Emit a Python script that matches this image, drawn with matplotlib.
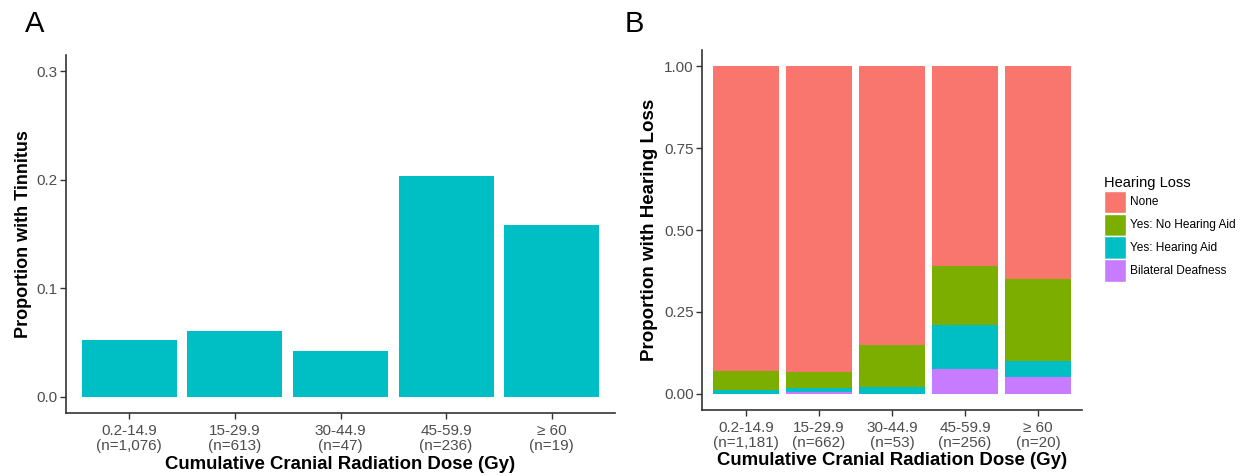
import matplotlib
matplotlib.use('Agg')
import matplotlib.pyplot as plt
from matplotlib.patches import Patch
import numpy as np

plt.rcParams['font.family'] = ['Liberation Sans', 'DejaVu Sans']

# dose groups
dose_groups = ['0.2-14.9', '15-29.9', '30-44.9', '45-59.9', '\u2265 60']
n_tinnitus = ['1,076', '613', '47', '236', '19']
n_hearing = ['1,181', '662', '53', '256', '20']

# panel A: proportion with tinnitus
tinnitus = [0.052, 0.0604, 0.0426, 0.2034, 0.1579]

# panel B: hearing loss categories (proportions per group)
deafness = [0.0, 0.006, 0.0, 0.076, 0.05]
hearing_aid = [0.012, 0.012, 0.019, 0.134, 0.05]
no_aid = [0.058, 0.049, 0.130, 0.179, 0.25]
none = [1 - a - b - c for a, b, c in zip(deafness, hearing_aid, no_aid)]

hl_labels = ['None', 'Yes: No Hearing Aid', 'Yes: Hearing Aid', 'Bilateral Deafness']
hl_colors = ['#F8766D', '#7CAE00', '#00BFC4', '#C77CFF']

TICK_COL = '#4D4D4D'
AX_COL = '#333333'


def style_axes(ax):
    for s in ['top', 'right']:
        ax.spines[s].set_visible(False)
    for s in ['left', 'bottom']:
        ax.spines[s].set_color(AX_COL)
        ax.spines[s].set_linewidth(1.2)
    ax.tick_params(colors=AX_COL, labelcolor=TICK_COL, labelsize=11,
                   length=4, width=1.0, pad=2)
    ax.tick_params(axis='x', pad=4)
    for t in ax.get_xticklabels():
        t.set_linespacing(1.12)


fig = plt.figure(figsize=(12.47, 4.76), dpi=100)

# ---- A ----
axA = fig.add_axes([66 / 1247, 63 / 476, 549 / 1247, 358 / 476])
x = np.arange(len(dose_groups))
axA.bar(x, tinnitus, width=0.9, color='#00BFC4')
axA.set_xlim(-0.6, len(dose_groups) - 0.4)
axA.set_ylim(-0.015, 0.315)
axA.set_yticks([0.0, 0.1, 0.2, 0.3])
axA.set_yticklabels(['0.0', '0.1', '0.2', '0.3'])
axA.set_xticks(x)
axA.set_xticklabels([f'{g}\n(n={n})' for g, n in zip(dose_groups, n_tinnitus)])
axA.set_ylabel('Proportion with Tinnitus', fontsize=13, fontweight='bold', labelpad=3)
axA.set_xlabel('Cumulative Cranial Radiation Dose (Gy)', fontsize=13.4,
               fontweight='bold', labelpad=2)
style_axes(axA)

# ---- B ----
axB = fig.add_axes([702 / 1247, 66 / 476, 380 / 1247, 360 / 476])
bottom = np.zeros(len(dose_groups))
for vals, col in zip([deafness, hearing_aid, no_aid, none], hl_colors[::-1]):
    axB.bar(x, vals, bottom=bottom, width=0.9, color=col)
    bottom += np.array(vals)
axB.set_xlim(-0.6, len(dose_groups) - 0.4)
axB.set_ylim(-0.05, 1.05)
axB.set_yticks([0, 0.25, 0.5, 0.75, 1.0])
axB.set_yticklabels(['0.00', '0.25', '0.50', '0.75', '1.00'])
axB.set_xticks(x)
axB.set_xticklabels([f'{g}\n(n={n})' for g, n in zip(dose_groups, n_hearing)])
axB.set_ylabel('Proportion with Hearing Loss', fontsize=13.5, fontweight='bold', labelpad=4)
axB.set_xlabel('Cumulative Cranial Radiation Dose (Gy)', fontsize=13.4,
               fontweight='bold', labelpad=1)
style_axes(axB)

handles = [Patch(facecolor=c, edgecolor='white', linewidth=1.0) for c in hl_colors]
leg = fig.legend(handles, hl_labels, title='Hearing Loss', loc='upper left',
                 bbox_to_anchor=(1104 / 1247, 1 - 176 / 476), frameon=False,
                 fontsize=8.6, title_fontsize=10.5, handlelength=1.8,
                 handleheight=2.5, labelspacing=0.05, handletextpad=0.4,
                 borderpad=0, borderaxespad=0, alignment='left')

fig.text(25 / 1247, 1 - 10 / 476, 'A', fontsize=21, va='top', ha='left')
fig.text(625 / 1247, 1 - 10 / 476, 'B', fontsize=21, va='top', ha='left')

fig.savefig('out.png', dpi=100)
